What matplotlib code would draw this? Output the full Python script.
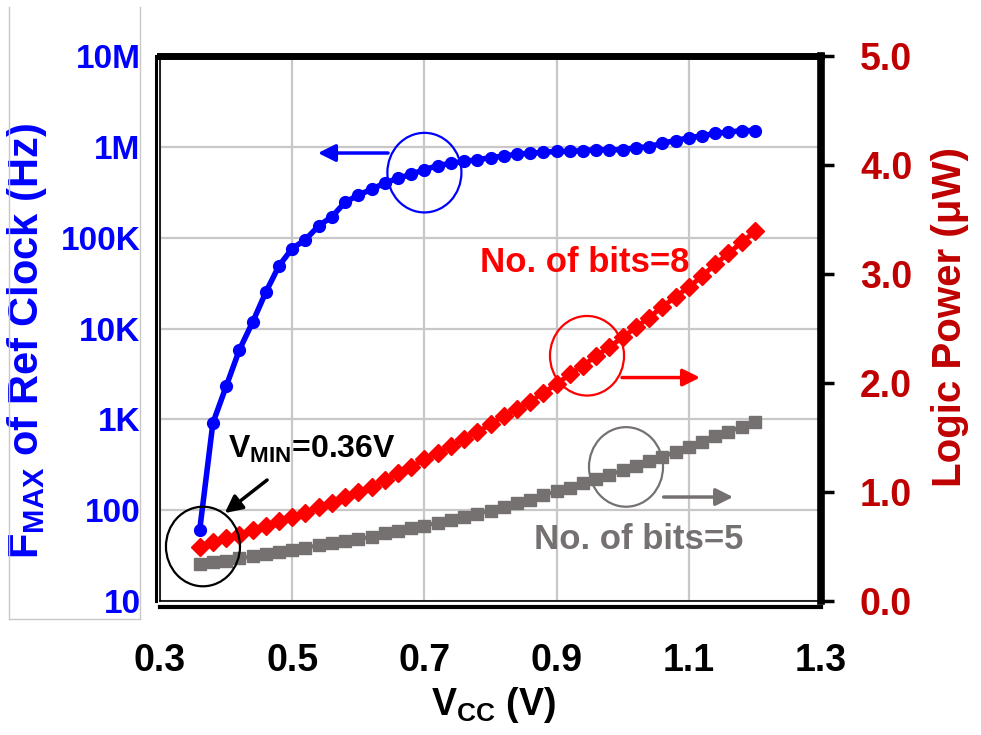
import matplotlib
matplotlib.use("Agg")
import matplotlib.pyplot as plt
from matplotlib.patches import Ellipse
from matplotlib.lines import Line2D

plt.rcParams["font.family"] = ["Liberation Sans", "DejaVu Sans"]
plt.rcParams["font.weight"] = "bold"
plt.rcParams["mathtext.fontset"] = "custom"
plt.rcParams["mathtext.rm"] = "Liberation Sans:bold"
plt.rcParams["mathtext.bf"] = "Liberation Sans:bold"

# data
vcc = [0.36, 0.38, 0.40, 0.42, 0.44, 0.46, 0.48, 0.50, 0.52, 0.54, 0.56,
       0.58, 0.60, 0.62, 0.64, 0.66, 0.68, 0.70, 0.72, 0.74, 0.76, 0.78,
       0.80, 0.82, 0.84, 0.86, 0.88, 0.90, 0.92, 0.94, 0.96, 0.98, 1.00,
       1.02, 1.04, 1.06, 1.08, 1.10, 1.12, 1.14, 1.16, 1.18, 1.20]

# max ref clock frequency (Hz), left log axis
fmax_hz = [60, 910, 2300, 5800, 11700, 25000, 49000, 76000, 95000, 135000,
           170000, 245000, 295000, 340000, 400000, 450000, 500000, 560000,
           620000, 660000, 690000, 720000, 760000, 790000, 830000, 850000,
           870000, 890000, 890000, 910000, 930000, 930000, 930000, 980000,
           1000000, 1100000, 1170000, 1260000, 1320000, 1410000, 1450000,
           1510000, 1510000]

# logic power (uW), right axis
power_8bit = [0.50, 0.54, 0.58, 0.61, 0.65, 0.69, 0.73, 0.77, 0.81, 0.86,
              0.90, 0.95, 1.00, 1.05, 1.11, 1.17, 1.23, 1.30, 1.36, 1.42,
              1.49, 1.55, 1.62, 1.70, 1.76, 1.83, 1.91, 1.99, 2.08, 2.16,
              2.25, 2.33, 2.42, 2.51, 2.60, 2.70, 2.79, 2.88, 2.98, 3.09,
              3.19, 3.29, 3.39]
power_5bit = [0.34, 0.36, 0.37, 0.39, 0.41, 0.43, 0.45, 0.47, 0.49, 0.51,
              0.53, 0.55, 0.57, 0.59, 0.62, 0.64, 0.67, 0.69, 0.72, 0.74,
              0.77, 0.80, 0.83, 0.86, 0.90, 0.93, 0.97, 1.01, 1.04, 1.08,
              1.12, 1.16, 1.20, 1.24, 1.28, 1.32, 1.37, 1.41, 1.46, 1.51,
              1.55, 1.60, 1.64]

x_ticks = [0.3, 0.5, 0.7, 0.9, 1.1, 1.3]
left_ticks = [10, 100, 1e3, 1e4, 1e5, 1e6, 1e7]
left_labels = ["10", "100", "1K", "10K", "100K", "1M", "10M"]
right_ticks = [0, 1, 2, 3, 4, 5]

blue = "#0000FF"
red = "#FF0000"
dark_red = "#C00000"
gray = "#767171"

fig = plt.figure(figsize=(9.81, 7.35), dpi=100)
fig.patch.set_facecolor("white")

# light box behind the left labels
for xs, ys in [([0.009, 0.009], [0.158, 0.99]), ([0.143, 0.143], [0.158, 0.99]),
               ([0.009, 0.143], [0.158, 0.158])]:
    fig.add_artist(Line2D(xs, ys, transform=fig.transFigure, color="#C8C8C8", lw=1))

ax = fig.add_axes([0.1631, 0.1823, 0.6738, 0.7415])
ax2 = ax.twinx()

# left axis: Fmax
ax.plot(vcc, fmax_hz, color=blue, lw=4, marker="o", ms=8.5, zorder=5)
ax.set_yscale("log")
ax.set_ylim(10, 1e7)
ax.set_xlim(0.3, 1.3)
ax.minorticks_off()
ax.set_yticks(left_ticks)
ax.set_yticklabels(left_labels)
ax.set_xticks(x_ticks)
ax.set_xticklabels([f"{t:.1f}" for t in x_ticks])
ax.grid(True, color="#C8C8C8", lw=1.6)
ax.set_axisbelow(True)
ax.tick_params(axis="y", length=0, pad=11, labelsize=24, labelcolor=blue)
ax.tick_params(axis="x", length=0, pad=26, labelsize=27, labelcolor="black")

# frame
ax.spines["top"].set_linewidth(5)
ax.spines["left"].set_linewidth(2.2)
ax.spines["left"].set_position(("outward", 3))
ax.spines["bottom"].set_linewidth(3)
ax.spines["bottom"].set_position(("outward", 4))
ax.spines["right"].set_visible(False)
ax.axvline(0.3, color="black", lw=1.2, clip_on=False)
ax.axhline(10, color="black", lw=1.2, clip_on=False)

ax.set_ylabel(r"F$_{\mathbf{MAX}}$ of Ref Clock (Hz)", color=blue, fontsize=30,
              fontweight="bold", va="center")
ax.yaxis.set_label_coords(-0.201, 0.477)
ax.set_xlabel(r"V$_{\mathbf{CC}}$ (V)", fontsize=27, fontweight="bold", va="center")
ax.xaxis.set_label_coords(0.504, -0.19)

# right axis: logic power
ax2.plot(vcc, power_8bit, color=red, lw=3.5, marker="D", ms=9.5, zorder=4)
ax2.plot(vcc, power_5bit, color=gray, lw=3, marker="s", ms=8, zorder=3)
ax2.set_ylim(0, 5)
ax2.set_yticks(right_ticks)
ax2.set_yticklabels([f"{t:.1f}" for t in right_ticks])
ax2.tick_params(axis="y", direction="out", length=9, width=2.5, color="black",
                pad=19, labelsize=27, labelcolor=dark_red)
for side in ["top", "left", "bottom"]:
    ax2.spines[side].set_visible(False)
ax2.spines["right"].set_linewidth(5.5)
ax2.set_ylabel("Logic Power (\u03bcW)", color=dark_red, fontsize=29,
               fontweight="bold", rotation=90, va="center")
ax2.yaxis.set_label_coords(1.195, 0.521)

# annotations: circles and arrows
circles = [((0.70, 3.93), blue), ((0.946, 2.25), red),
           ((1.005, 1.23), gray), ((0.365, 0.50), "black")]
for (cx, cy), col in circles:
    ax2.add_patch(Ellipse((cx, cy), 0.112, 0.73, fill=False, edgecolor=col,
                          lw=1.6, zorder=6, clip_on=False))

arrows = [((0.539, 4.11), (0.645, 4.11), blue),
          ((1.117, 2.05), (0.999, 2.05), red),
          ((1.167, 0.954), (1.062, 0.954), gray),
          ((0.398, 0.807), (0.462, 1.11), "black")]
for tip, tail, col in arrows:
    ax2.annotate("", xy=tip, xytext=tail,
                 arrowprops=dict(arrowstyle="-|>", color=col, lw=2.5,
                                 mutation_scale=26, shrinkA=0, shrinkB=0),
                 zorder=6)

ax2.text(0.403, 1.32, r"V$_{\mathbf{MIN}}$=0.36V", fontsize=23, fontweight="bold",
         color="black", ha="left", va="baseline", zorder=7)
ax2.text(0.784, 3.11, "No. of bits=8", fontsize=25, fontweight="bold",
         color=red, ha="left", va="center", zorder=7)
ax2.text(0.866, 0.56, "No. of bits=5", fontsize=25, fontweight="bold",
         color=gray, ha="left", va="center", zorder=7)

plt.savefig("out.png", dpi=100)
